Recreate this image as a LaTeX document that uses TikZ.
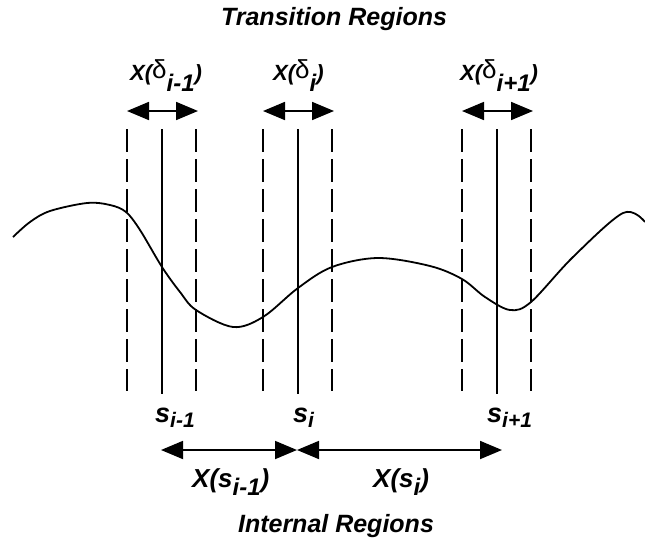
\documentclass[tikz,border=0pt]{standalone}
\usepackage{fontspec}
\setmainfont{Liberation Sans}
\usetikzlibrary{arrows.meta}

\newcommand\lowsub[2]{\raisebox{-#1}{#2}}
\newcommand\dlt{{\mdseries\upshape\fontsize{26}{26}\selectfont\raisebox{2pt}{δ}}}

\begin{document}
\begin{tikzpicture}[x=1pt,y=-1pt,
  tag/.style={inner sep=0pt,anchor=base west,font=\bfseries\itshape},
  title/.style={inner sep=0pt,anchor=base,font=\fontsize{25}{25}\selectfont\bfseries\itshape},
  cut/.style={line width=1.6pt},
  bound/.style={line width=1.6pt,dash pattern=on 23pt off 7pt},
  span/.style={line width=1.8pt,{Triangle[length=22pt,width=18pt]}-{Triangle[length=22pt,width=18pt]}}]
\useasboundingbox (0,0) rectangle (645,544);

% cut points and transition bounds
\foreach \n/\x in {a/162,b/298,c/497}{
  \coordinate (\n t) at (\x,129); \coordinate (\n b) at (\x,394);
  \coordinate (\n lt) at (\x-35,129); \coordinate (\n lb) at (\x-35,391);
  \coordinate (\n rt) at (\x+34,129); \coordinate (\n rb) at (\x+34,391);
  \coordinate (\n l) at (\x-35,111); \coordinate (\n r) at (\x+36,111);
  \draw[cut] (\n t) -- (\n b);
  \draw[bound] (\n lt) -- (\n lb);
  \draw[bound] (\n rt) -- (\n rb);
  \draw[span] (\n l) -- (\n r);
}

% curve
\draw[line width=1.8pt] plot[smooth,tension=0.55] coordinates {(13,237) (30,222) (50,211) (87,203) (110,205) (126,212) (140,230) (162,267) (180,292) (196,310) (233,327) (263,317) (298,288) (332,267) (378,258) (430,266) (462,279) (485,297) (510,310) (531,302) (573,257) (623,213) (645,222)};

% internal regions
\coordinate (p1) at (161,450);
\coordinate (p2) at (297,450);
\coordinate (p3) at (502,450);
\draw[span] (p1) -- (p2);
\draw[span] (p2) -- (p3);

% labels
\node[title] (trans) at (334,25) {Transition Regions};
\node[title] (intern) at (336,532) {Internal Regions};

\node[tag,font=\fontsize{22}{22}\selectfont\bfseries\itshape] (da) at (130,80)
  {X(\dlt\lowsub{11pt}{\fontsize{24}{24}\selectfont i-1})};
\node[tag,font=\fontsize{22}{22}\selectfont\bfseries\itshape] (db) at (273,80)
  {X(\dlt\lowsub{11pt}{\fontsize{24}{24}\selectfont i})};
\node[tag,font=\fontsize{22}{22}\selectfont\bfseries\itshape] (dc) at (460,80)
  {X(\dlt\lowsub{11pt}{\fontsize{24}{24}\selectfont i+1})};

\node[tag,font=\fontsize{27}{27}\selectfont\bfseries\itshape] (sa) at (155,422)
  {s\lowsub{5pt}{\fontsize{21}{21}\selectfont i-1}};
\node[tag,font=\fontsize{27}{27}\selectfont\bfseries\itshape] (sb) at (293,422)
  {s\lowsub{5pt}{\fontsize{21}{21}\selectfont i}};
\node[tag,font=\fontsize{27}{27}\selectfont\bfseries\itshape] (sc) at (487,422)
  {s\lowsub{5pt}{\fontsize{21}{21}\selectfont i+1}};

\node[tag,font=\fontsize{26}{26}\selectfont\bfseries\itshape] (xa) at (192,487)
  {X(s\lowsub{8pt}{\fontsize{24}{24}\selectfont i-1})};
\node[tag,font=\fontsize{26}{26}\selectfont\bfseries\itshape] (xb) at (373,487)
  {X(s\lowsub{8pt}{\fontsize{24}{24}\selectfont i})};
\end{tikzpicture}
\end{document}
